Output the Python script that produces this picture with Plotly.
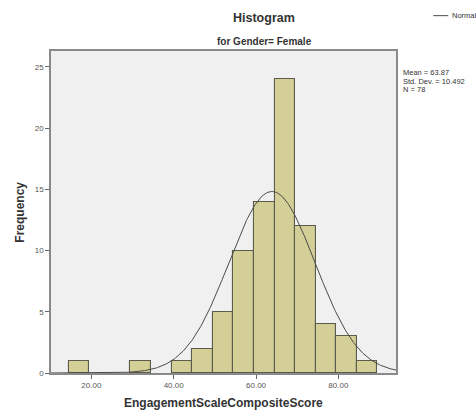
import numpy as np
import plotly.graph_objects as go

# Histogram bins (lower edges, width 5) and frequencies
bin_starts = [14.5, 29.5, 39.5, 44.5, 49.5, 54.5, 59.5, 64.5, 69.5, 74.5, 79.5, 84.5]
counts = [1, 1, 1, 2, 5, 10, 14, 24, 12, 4, 3, 1]
bin_width = 5.0

# Summary statistics
mean_val = 63.87
std_val = 10.492
n_val = 78

x_ticks = [20, 40, 60, 80]
x_tick_labels = ["20.00", "40.00", "60.00", "80.00"]
y_ticks = [0, 5, 10, 15, 20, 25]

x_range = [10.2, 94.0]
y_range = [0, 26.3]

centers = [s + bin_width / 2 for s in bin_starts]

# Fitted normal curve scaled to frequency
xs = np.linspace(x_range[0], x_range[1], 400)
ys = n_val * bin_width / (std_val * np.sqrt(2 * np.pi)) * np.exp(-0.5 * ((xs - mean_val) / std_val) ** 2)

fig = go.Figure()
fig.add_trace(go.Bar(
    x=centers, y=counts, width=bin_width,
    marker=dict(color="#d3cf97", line=dict(color="#5c5c4c", width=1.1)),
    showlegend=False,
))
fig.add_trace(go.Scatter(
    x=xs, y=ys, mode="lines",
    line=dict(color="#4a4a4a", width=1),
    showlegend=False, hoverinfo="skip",
))

FONT = "Liberation Sans, Arial, sans-serif"
frame = "#8a8a8a"

fig.update_layout(
    width=476, height=414,
    margin=dict(l=50.5, r=80.3, t=51, b=41.3),
    paper_bgcolor="white",
    plot_bgcolor="#f0f0f0",
    bargap=0,
    font=dict(family=FONT, color="#333"),
    xaxis=dict(
        range=x_range, tickvals=x_ticks, ticktext=x_tick_labels,
        showgrid=False, zeroline=False,
        showline=True, linecolor=frame, linewidth=1.5, mirror=True,
        ticks="outside", ticklen=4, tickcolor="#666", tickwidth=1,
        tickfont=dict(family=FONT, size=8, color="#555"),
    ),
    yaxis=dict(
        range=y_range, tickvals=y_ticks,
        showgrid=False, zeroline=False,
        showline=True, linecolor=frame, linewidth=1.5, mirror=True,
        ticks="outside", ticklen=4, tickcolor="#666", tickwidth=1,
        tickfont=dict(family=FONT, size=8, color="#555"),
    ),
)

def px_x(p):
    return (p - 50.5) / 345.2

def px_y(p):
    return (372.7 - p) / 321.7

annotations = [
    dict(text="<b>Histogram</b>", x=px_x(264), y=px_y(18), size=12.5, xa="center"),
    dict(text="<b>for Gender= Female</b>", x=px_x(264.5), y=px_y(42), size=10, xa="center"),
    dict(text="<b>EngagementScaleCompositeScore</b>", x=px_x(223), y=px_y(403), size=12, xa="center"),
    dict(text="Mean = 63.87", x=px_x(401), y=px_y(72.5), size=7.5, xa="left"),
    dict(text="Std. Dev. = 10.492", x=px_x(401), y=px_y(81), size=7.5, xa="left"),
    dict(text="N = 78", x=px_x(401), y=px_y(89.5), size=7.5, xa="left"),
    dict(text="Normal", x=px_x(450), y=px_y(15.7), size=7.5, xa="left"),
]
for a in annotations:
    fig.add_annotation(
        text=a["text"], x=a["x"], y=a["y"], xref="paper", yref="paper",
        xanchor=a["xa"], yanchor="middle", showarrow=False,
        font=dict(family=FONT, size=a["size"], color="#333"),
    )

fig.add_annotation(
    text="<b>Frequency</b>", x=px_x(20), y=px_y(212), xref="paper", yref="paper",
    xanchor="center", yanchor="middle", showarrow=False, textangle=-90,
    font=dict(family=FONT, size=12, color="#333"),
)

# Legend sample line
fig.add_shape(
    type="line", xref="paper", yref="paper",
    x0=px_x(433), x1=px_x(448), y0=px_y(15.7), y1=px_y(15.7),
    line=dict(color="#4a4a4a", width=1),
)

fig.write_html("out.html")
